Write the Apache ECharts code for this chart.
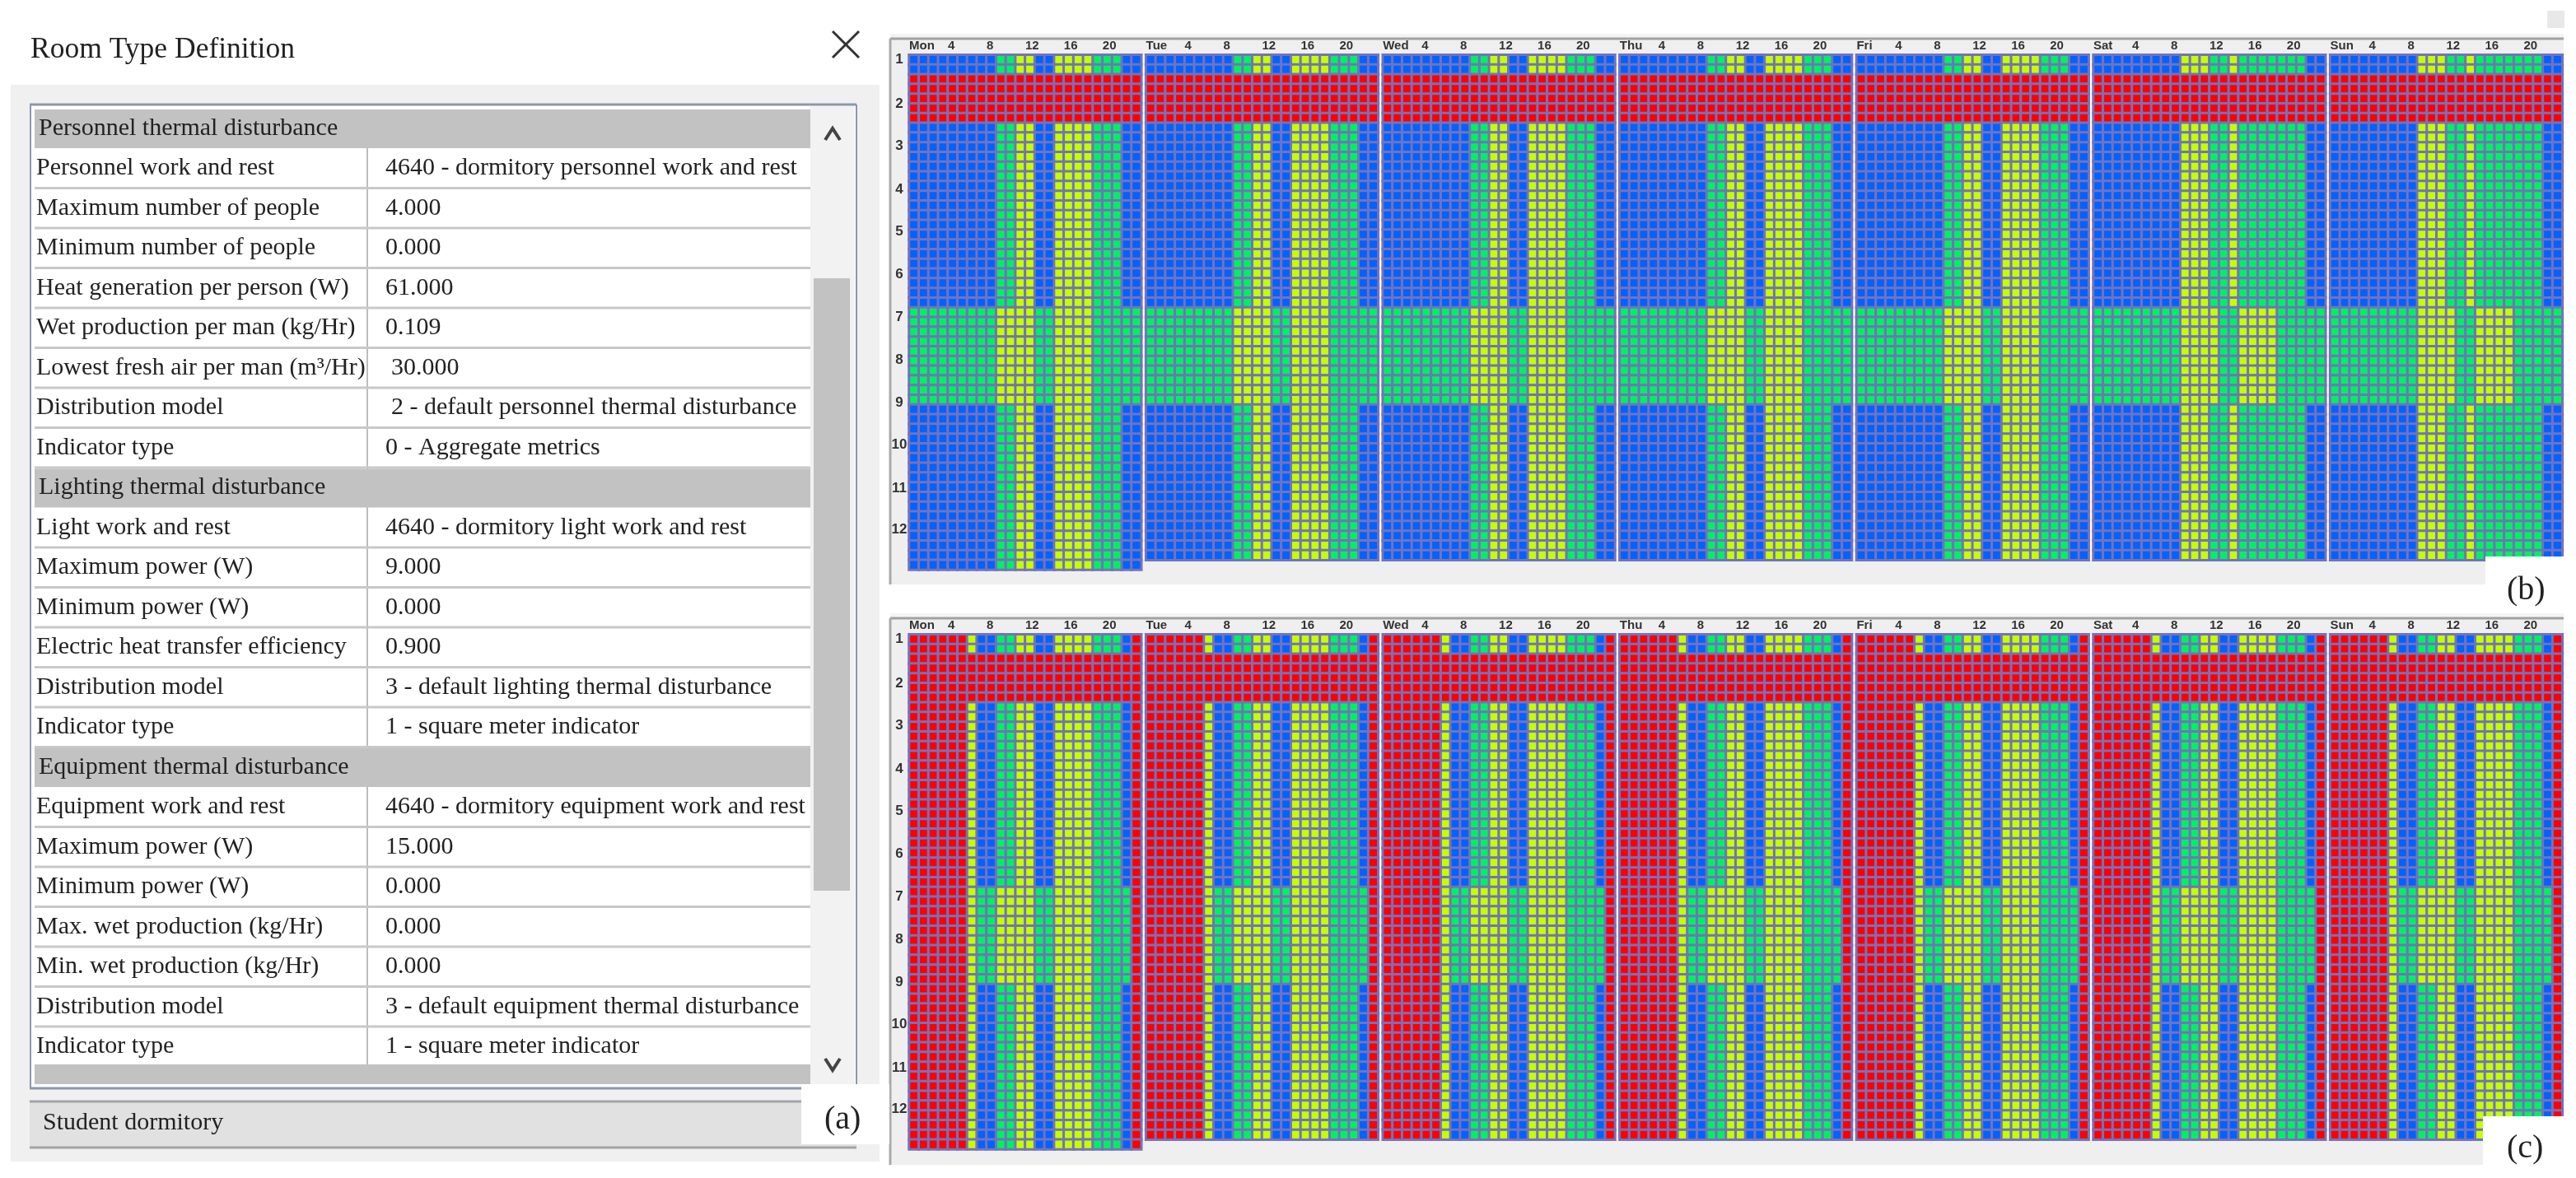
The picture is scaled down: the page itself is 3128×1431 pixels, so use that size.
<!DOCTYPE html>
<html>
<head>
<meta charset="utf-8">
<title>Room Type Definition</title>
<style>
  html, body { margin: 0; padding: 0; background: #fff; }
  #chart-container { width: 3128px; height: 1431px; }
</style>
<script src="https://cdn.jsdelivr.net/npm/echarts@6/dist/echarts.min.js"></script>
</head>
<body>
<div id="chart-container"></div>
<script>
  // schedule codes: 0 blue, 1 green, 2 yellow, 3 red
  const days = ["Mon", "Tue", "Wed", "Thu", "Fri", "Sat", "Sun"];
  const hourTicks = [0, 4, 8, 12, 16, 20];
  const monthLabels = ["1", "2", "3", "4", "5", "6", "7", "8", "9", "10", "11", "12"];
  const monthCenters = [0.5, 5.08, 9.4, 13.84, 18.2, 22.6, 27, 31.4, 35.8, 40.1, 44.6, 48.9];

  const holidayDay = [3, 3, 3, 3, 3, 3, 3, 3, 3, 3, 3, 3, 3, 3, 3, 3, 3, 3, 3, 3, 3, 3, 3, 3];
  const bWeekday = [0, 0, 0, 0, 0, 0, 0, 0, 0, 1, 1, 2, 2, 0, 0, 2, 2, 2, 2, 1, 1, 1, 0, 0];
  const bWeekend = [0, 0, 0, 0, 0, 0, 0, 0, 0, 2, 2, 2, 1, 1, 2, 1, 1, 1, 1, 1, 1, 1, 0, 0];
  const bSummer = [1, 1, 1, 1, 1, 1, 1, 1, 1, 2, 2, 2, 2, 1, 1, 2, 2, 2, 2, 1, 1, 1, 1, 1];
  const cNormal = [3, 3, 3, 3, 3, 3, 2, 0, 0, 1, 1, 2, 2, 0, 0, 2, 2, 2, 2, 1, 1, 1, 0, 3];
  const cSummer = [3, 3, 3, 3, 3, 3, 2, 1, 1, 2, 2, 2, 2, 1, 1, 2, 2, 2, 2, 1, 1, 1, 1, 3];

  // kind of each row of the year: 0 normal, 1 holiday, 2 summer
  const rowKinds = [
    0, 0, 1, 1, 1, 1, 1, 0, 0, 0, 0, 0, 0, 0, 0, 0, 0, 0, 0, 0, 0, 0, 0, 0, 0, 0,
    2, 2, 2, 2, 2, 2, 2, 2, 2, 2, 0, 0, 0, 0, 0, 0, 0, 0, 0, 0, 0, 0, 0, 0, 0, 0, 0,
  ];

  const tableLabels = [
    "Personnel thermal disturbance",
    "Personnel work and rest", "Maximum number of people", "Minimum number of people",
    "Heat generation per person (W)", "Wet production per man (kg/Hr)",
    "Lowest fresh air per man (m³/Hr)", "Distribution model", "Indicator type",
    "Lighting thermal disturbance",
    "Light work and rest", "Maximum power (W)", "Minimum power (W)",
    "Electric heat transfer efficiency", "Distribution model", "Indicator type",
    "Equipment thermal disturbance",
    "Equipment work and rest", "Maximum power (W)", "Minimum power (W)",
    "Max. wet production (kg/Hr)", "Min. wet production (kg/Hr)",
    "Distribution model", "Indicator type",
  ];
  const tableValues = [
    null,
    "4640 - dormitory personnel work and rest", "4.000", "0.000", "61.000", "0.109", "30.000",
    "2 - default personnel thermal disturbance", "0 - Aggregate metrics",
    null,
    "4640 - dormitory light work and rest", "9.000", "0.000", "0.900",
    "3 - default lighting thermal disturbance", "1 - square meter indicator",
    null,
    "4640 - dormitory equipment work and rest", "15.000", "0.000", "0.000", "0.000",
    "3 - default equipment thermal disturbance", "1 - square meter indicator",
  ];

  const CELL_W = 11.74;
  const CELL_H = 11.8;
  const DAY_STEP = 287.6;
  const DAY_LEFT = 1104;
  const TOP_B = 66.7;
  const TOP_C = 770.7;
  const ROWS = 53;

  const serif = '"Liberation Serif", serif';
  const graphics = [];

  function box(x, y, width, height, fill, z) {
    graphics.push({ type: "rect", z: z === undefined ? -5 : z, silent: true, shape: { x, y, width, height }, style: { fill } });
  }
  function line(x1, y1, x2, y2, stroke, lineWidth, z) {
    graphics.push({ type: "line", z: z === undefined ? -4 : z, silent: true, shape: { x1, y1, x2, y2 }, style: { stroke, lineWidth } });
  }
  function label(text, x, y, size, z) {
    graphics.push({
      type: "text", z: z === undefined ? -3 : z, silent: true,
      style: { text, x, y, fill: "#222", font: size + "px " + serif, verticalAlign: "middle" },
    });
  }
  function chevron(x, y, dir) {
    graphics.push({
      type: "polyline", z: -3, silent: true,
      shape: { points: [[x - 9, y + 7 * dir], [x, y - 7 * dir], [x + 9, y + 7 * dir]] },
      style: { stroke: "#444", lineWidth: 4, fill: "none" },
    });
  }

  // left dialog
  label("Room Type Definition", 37, 61, 35.5);
  line(1011, 38, 1043, 70, "#333", 3);
  line(1043, 38, 1011, 70, "#333", 3);
  box(13, 103, 1055, 1308, "#f0f0f0");
  box(36, 127, 1004, 1195, "#ffffff");
  line(36, 127, 1040, 127, "#8a97ad", 3);
  line(37, 127, 37, 1322, "#8a97ad", 2);
  line(1040, 127, 1040, 1322, "#8a97ad", 2);
  line(36, 1322, 1040, 1322, "#8a97ad", 3);
  box(984, 129, 54, 1191, "#f2f2f2");
  box(988, 338, 44, 744, "#c2c2c2");
  chevron(1011, 163, 1);
  chevron(1011, 1293, -1);
  line(446, 180, 446, 1293, "#bdbdbd", 2);

  tableLabels.forEach((text, i) => {
    const cy = 156 + 48.5 * i;
    if (tableValues[i] === null) {
      box(42, cy - 23, 942, 47, "#c2c2c2", -4);
      label(text, 47, cy, 30);
    } else {
      line(42, cy + 24, 984, cy + 24, "#c8c8c8", 3);
      label(text, 44, cy, 30);
      label(tableValues[i], i === 6 || i === 7 ? 475 : 468, cy, 30);
    }
  });
  box(42, 1293, 942, 24, "#c2c2c2", -4);

  box(36, 1337, 1004, 58, "#e1e1e1");
  line(36, 1338, 1040, 1338, "#a4a4a4", 3);
  line(36, 1394, 1040, 1394, "#a4a4a4", 3);
  label("Student dormitory", 52, 1364, 30);
  box(973, 1317, 107, 73, "#ffffff", -2);
  label("(a)", 1001, 1360, 40, -1);

  // right panels
  box(3093, 13, 21, 21, "#e8e8e8");
  [[47, 710, TOP_B], [751, 1415, TOP_C]].forEach(([y1, y2, top]) => {
    box(1081, y1 - 6, 2032, 6, "#f4f4f4");
    box(1081, y1, 2032, y2 - y1, "#efefef");
    box(DAY_LEFT, top, 2007, 52 * CELL_H, "#ffffff", -4);
    line(1081, y1, 3113, y1, "#a2a2a2", 3);
    line(1081, y1, 1081, y2, "#aaaaaa", 3);
  });
  box(3018, 676, 110, 69, "#ffffff", 10);
  label("(b)", 3044, 717, 40, 11);
  box(3015, 1356, 113, 75, "#ffffff", 10);
  label("(c)", 3044, 1395, 40, 11);

  function dayProfile(panel, kind, d) {
    if (kind === 1) return holidayDay;
    if (panel === 0) {
      if (kind === 2) return bSummer;
      return d >= 5 ? bWeekend : bWeekday;
    }
    return kind === 2 ? cSummer : cNormal;
  }

  const hourCats = holidayDay.map((_, i) => String(i));
  const rowCats = rowKinds.map((_, i) => String(i));

  const grid = [], xAxis = [], yAxis = [], series = [];
  const tickFont = { fontFamily: '"Liberation Sans", sans-serif', fontWeight: "bold", color: "#333" };

  [TOP_B, TOP_C].forEach((top, panel) => {
    days.forEach((day, d) => {
      const g = grid.length;
      grid.push({
        left: DAY_LEFT + d * DAY_STEP, top,
        width: 24 * CELL_W, height: ROWS * CELL_H, containLabel: false,
      });
      // band axes that carry the cells
      xAxis.push({ type: "category", gridIndex: g, data: hourCats, show: false });
      yAxis.push({ type: "category", gridIndex: g, data: rowCats, inverse: true, show: false });
      const xCat = xAxis.length - 1, yCat = yAxis.length - 1;

      // value axes that carry the labels
      xAxis.push({
        type: "value", gridIndex: g, position: "top", min: 0, max: 24,
        axisLine: { show: false }, axisTick: { show: false }, splitLine: { show: false },
        axisLabel: {
          ...tickFont, fontSize: 15, align: "left", margin: 3,
          customValues: hourTicks,
          formatter: (v) => (v === 0 ? day : String(v)),
        },
      });
      yAxis.push({
        type: "value", gridIndex: g, position: "left", inverse: true, min: 0, max: ROWS,
        axisLine: { show: false }, axisTick: { show: false }, splitLine: { show: false },
        axisLabel: {
          ...tickFont, fontSize: 17, align: "center", margin: 12, show: d === 0,
          customValues: monthCenters,
          formatter: (v) => monthLabels[monthCenters.indexOf(v)],
        },
      });

      const data = [];
      rowKinds.forEach((kind, r) => {
        // only Monday reaches the 53rd row
        if (r === ROWS - 1 && d !== 0) return;
        dayProfile(panel, kind, d).forEach((code, h) => data.push([h, r, code]));
      });
      series.push({
        type: "heatmap", xAxisIndex: xCat, yAxisIndex: yCat, data,
        progressive: 0, animation: false, silent: true,
        itemStyle: { borderColor: "#7472bc", borderWidth: 3 },
      });
    });
  });

  const dom = document.getElementById("chart-container");
  const myChart = echarts.init(dom, null, { renderer: "canvas", useDirtyRect: false });
  myChart.setOption({
    animation: false,
    backgroundColor: "#ffffff",
    tooltip: { show: false },
    grid, xAxis, yAxis, series,
    visualMap: {
      type: "piecewise", show: false, dimension: 2, seriesIndex: series.map((_, i) => i),
      pieces: [
        { value: 0, color: "#0062ff" },
        { value: 1, color: "#00f060" },
        { value: 2, color: "#c4ff00" },
        { value: 3, color: "#ff0000" },
      ],
    },
    graphic: { elements: graphics },
  });
</script>
</body>
</html>
